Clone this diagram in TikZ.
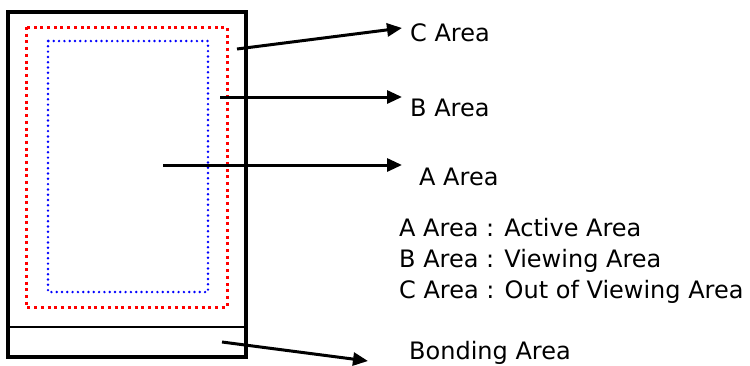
\documentclass[tikz,border=0pt]{standalone}
\usepackage{fontspec}
\setmainfont{DejaVu Sans}
\usetikzlibrary{arrows.meta}

\begin{document}
\begin{tikzpicture}[x=1pt,y=-1pt,
    panel/.style={draw,line width=3.4pt},
    zoneC/.style={draw=red,line width=3pt,dash pattern=on 3pt off 3.7pt},
    zoneB/.style={draw=blue,line width=2.7pt,line cap=round,dash pattern=on 0pt off 5.3pt},
    ptr/.style={line width=3pt,-{Triangle[length=15pt,width=13pt]}},
    lbl/.style={anchor=base west,inner sep=0pt,font=\fontsize{24}{28}\selectfont}]
        \useasboundingbox (0,0) rectangle (750,365);
        % panel
        \draw[panel] (8,12) rectangle (246,357);
        \draw[line width=2.8pt] (8,327) -- (246,327);
        \draw[zoneC] (26,27) rectangle (227,307);
        \draw[zoneB] (48,41) rectangle (208,292);
        % labels
        \node[lbl] (carea) at (410,41) {C Area};
        \node[lbl] (barea) at (410,116) {B Area};
        \node[lbl] (aarea) at (419,185) {A Area};
        \node[lbl] (lega) at (399,236) {A Area : Active Area};
        \node[lbl] (legb) at (399,267) {B Area : Viewing Area};
        \node[lbl] (legc) at (399,298) {C Area : Out of Viewing Area};
        \node[lbl] (bondarea) at (409,359) {Bonding Area};
        % arrow ends
        \coordinate (cfrom) at (237,49);
        \coordinate (bfrom) at (220,97);
        \coordinate (afrom) at (163,165);
        \coordinate (bondfrom) at (222,342);
        \coordinate (cto) at ([shift={(-8,-13)}]carea.base west);
        \coordinate (bto) at ([shift={(-8,-19)}]barea.base west);
        \coordinate (ato) at ([shift={(-17,-20)}]aarea.base west);
        \coordinate (bondto) at ([shift={(-41,2)}]bondarea.base west);
        % arrows
        \draw[ptr] (cfrom) -- (cto);
        \draw[ptr] (bfrom) -- (bto);
        \draw[ptr] (afrom) -- (ato);
        \draw[ptr] (bondfrom) -- (bondto);
\end{tikzpicture}
\end{document}
